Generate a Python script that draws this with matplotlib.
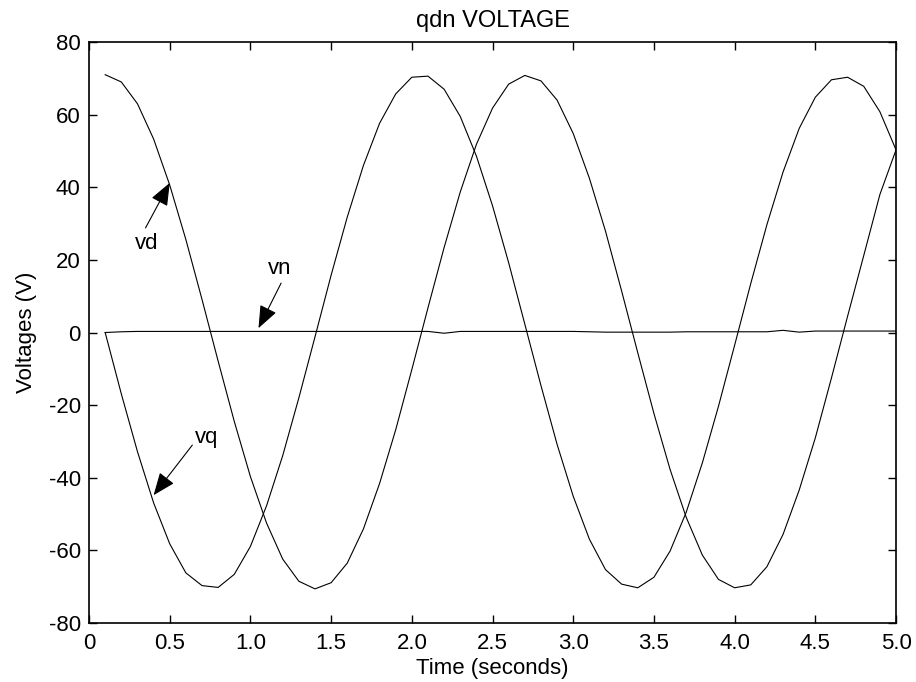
"""qdn-frame voltages of the machine model over the first five seconds."""

import matplotlib

matplotlib.use("Agg")
import matplotlib.pyplot as plt

plt.rcParams["font.family"] = ["Liberation Sans", "DejaVu Sans"]
plt.rcParams["axes.unicode_minus"] = False

# sampled every 0.1 s
time_s = [
	0.1, 0.2, 0.3, 0.4, 0.5, 0.6, 0.7, 0.8, 0.9, 1.0,
	1.1, 1.2, 1.3, 1.4, 1.5, 1.6, 1.7, 1.8, 1.9, 2.0,
	2.1, 2.2, 2.3, 2.4, 2.5, 2.6, 2.7, 2.8, 2.9, 3.0,
	3.1, 3.2, 3.3, 3.4, 3.5, 3.6, 3.7, 3.8, 3.9, 4.0,
	4.1, 4.2, 4.3, 4.4, 4.5, 4.6, 4.7, 4.8, 4.9, 5.0,
]
vd = [
	71.0, 69.0, 63.0, 53.3, 40.6, 25.6, 9.1, -7.9, -24.5, -39.7,
	-52.5, -62.4, -68.5, -70.6, -68.9, -63.5, -54.1, -41.6, -26.8, -10.2,
	6.8, 23.4, 38.7, 51.8, 61.8, 68.4, 70.8, 69.3, 64.0, 54.8,
	42.5, 27.9, 11.4, -5.6, -22.3, -37.7, -50.9, -61.3, -68.0, -70.3,
	-69.5, -64.5, -55.6, -43.4, -29.0, -12.5, 4.5, 21.2, 38.0, 50.3,
]
vq = [
	0.0, -16.9, -32.8, -46.9, -58.2, -66.2, -69.7, -70.2, -66.6, -58.9,
	-47.7, -33.9, -18.0, -1.2, 15.8, 31.8, 46.0, 57.6, 65.7, 70.3,
	70.6, 67.0, 59.5, 48.6, 34.9, 19.2, 2.3, -14.6, -30.8, -45.1,
	-56.9, -65.3, -69.3, -70.3, -67.4, -60.2, -49.5, -35.9, -20.3, -3.5,
	13.5, 29.7, 44.2, 56.2, 64.8, 69.6, 70.3, 67.8, 60.8, 50.3,
]
vn = [
	0.0, 0.2, 0.3, 0.3, 0.3, 0.3, 0.3, 0.3, 0.3, 0.3,
	0.3, 0.3, 0.3, 0.3, 0.3, 0.3, 0.3, 0.3, 0.3, 0.3,
	0.3, -0.2, 0.3, 0.3, 0.3, 0.3, 0.3, 0.3, 0.3, 0.3,
	0.2, 0.1, 0.1, 0.1, 0.1, 0.1, 0.2, 0.2, 0.2, 0.2,
	0.2, 0.2, 0.6, 0.1, 0.4, 0.4, 0.4, 0.4, 0.4, 0.4,
]

x_ticks = [0, 0.5, 1.0, 1.5, 2.0, 2.5, 3.0, 3.5, 4.0, 4.5, 5.0]
x_tick_labels = ["0", "0.5", "1.0", "1.5", "2.0", "2.5", "3.0", "3.5", "4.0", "4.5", "5.0"]
y_ticks = [-80, -60, -40, -20, 0, 20, 40, 60, 80]

# (label, label centre, arrow tail, arrow tip) in data units
callouts = [
	("vd", (0.36, 24.6), (0.35, 28.8), (0.50, 41.2)),
	("vn", (1.18, 17.6), (1.19, 13.6), (1.05, 1.2)),
	("vq", (0.73, -28.8), (0.64, -31.0), (0.40, -44.8)),
]

fig = plt.figure(figsize=(9.16, 6.82), dpi=100)
ax = fig.add_axes([0.0972, 0.0865, 0.8810, 0.8519])

for series in (vd, vq, vn):
	ax.plot(time_s, series, color="black", linewidth=0.8)

for label, text_xy, tail_xy, tip_xy in callouts:
	ax.text(text_xy[0], text_xy[1], label, fontsize=16, ha="center", va="center")
	ax.annotate(
		"",
		xy=tip_xy,
		xytext=tail_xy,
		arrowprops=dict(
			arrowstyle="-|>,head_length=1.0,head_width=0.4",
			mutation_scale=14,
			color="black",
			linewidth=0.8,
			shrinkA=0,
			shrinkB=0,
		),
	)

ax.set_xlim(0, 5)
ax.set_ylim(-80, 80)
ax.set_xticks(x_ticks)
ax.set_xticklabels(x_tick_labels)
ax.set_yticks(y_ticks)
ax.tick_params(
	direction="in", top=True, right=True, length=6, width=1.0,
	labelsize=16, pad=6,
)
ax.tick_params(axis="x", pad=7)
for spine in ax.spines.values():
	spine.set_linewidth(1.2)

ax.set_title("qdn VOLTAGE", fontsize=17, pad=11)
ax.set_xlabel("Time (seconds)", fontsize=16, labelpad=3)
ax.set_ylabel("Voltages (V)", fontsize=16, labelpad=8)

fig.savefig("out.png", dpi=100)
